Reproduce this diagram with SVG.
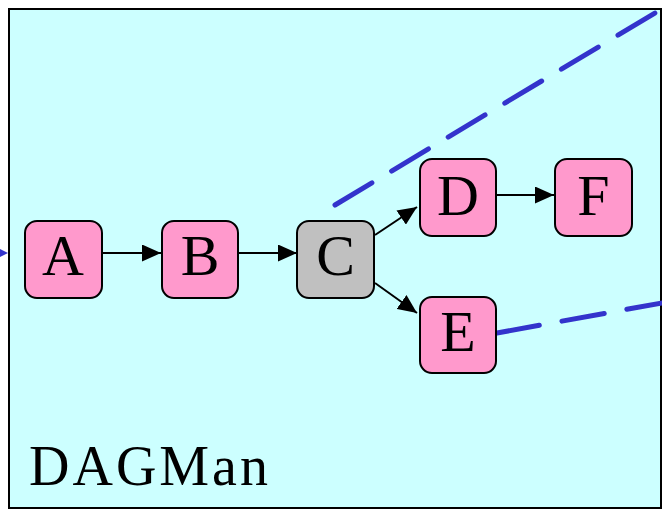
<svg xmlns="http://www.w3.org/2000/svg" width="662" height="510" viewBox="0 0 662 510">
  <style>
    .frame { fill: #CCFFFF; stroke: #000; stroke-width: 2; }
    .node { fill: #FF99CC; stroke: #000; stroke-width: 2; }
    .node.gray { fill: #C0C0C0; }
    .lbl { font-family: "Liberation Serif", "Times New Roman", serif; font-size: 58px; fill: #000; text-anchor: middle; }
    .title { font-family: "Liberation Serif", "Times New Roman", serif; font-size: 56px; fill: #000; }
    .edge { stroke: #000; stroke-width: 2; fill: none; marker-end: url(#arr); }
    .dash { stroke: #3333CC; stroke-width: 5; fill: none; stroke-linecap: round; stroke-dasharray: 43 23; }
  </style>
  <defs>
    <marker id="arr" markerUnits="userSpaceOnUse" markerWidth="20" markerHeight="17" refX="19" refY="8.5" orient="auto">
      <path d="M0,0 L19,8.5 L0,17 Z" fill="#000"/>
    </marker>
  </defs>
  <rect class="frame" x="9" y="9" width="652" height="499"/>
  <polygon points="-6,246 8,253 -6,260" fill="#3333CC"/>
  <g id="connectors">
    <line class="edge" x1="102" y1="253" x2="161" y2="253"/>
    <line class="edge" x1="239" y1="253" x2="297" y2="253"/>
    <line class="edge" x1="375" y1="235" x2="417" y2="207"/>
    <line class="edge" x1="375" y1="283" x2="417" y2="313"/>
    <line class="edge" x1="497" y1="195" x2="554" y2="195"/>
    <line class="dash" x1="335" y1="205" x2="720" y2="-26"/>
    <line class="dash" x1="497" y1="333" x2="700" y2="296"/>
  </g>
  <g id="A"><rect class="node" x="25" y="221" width="77" height="77" rx="12"/><text class="lbl" x="63" y="275">A</text></g>
  <g id="B"><rect class="node" x="162" y="221" width="76" height="77" rx="12"/><text class="lbl" x="200" y="275">B</text></g>
  <g id="C"><rect class="node gray" x="297" y="221" width="77" height="77" rx="12"/><text class="lbl" x="335.5" y="275">C</text></g>
  <g id="D"><rect class="node" x="420" y="159" width="76" height="77" rx="12"/><text class="lbl" x="458" y="215">D</text></g>
  <g id="F"><rect class="node" x="555" y="159" width="77" height="77" rx="12"/><text class="lbl" x="593.5" y="215">F</text></g>
  <g id="E"><rect class="node" x="420" y="297" width="76" height="76" rx="12"/><text class="lbl" x="458" y="351">E</text></g>
  <text class="title" x="29" y="485" letter-spacing="3">DAGMan</text>
</svg>
